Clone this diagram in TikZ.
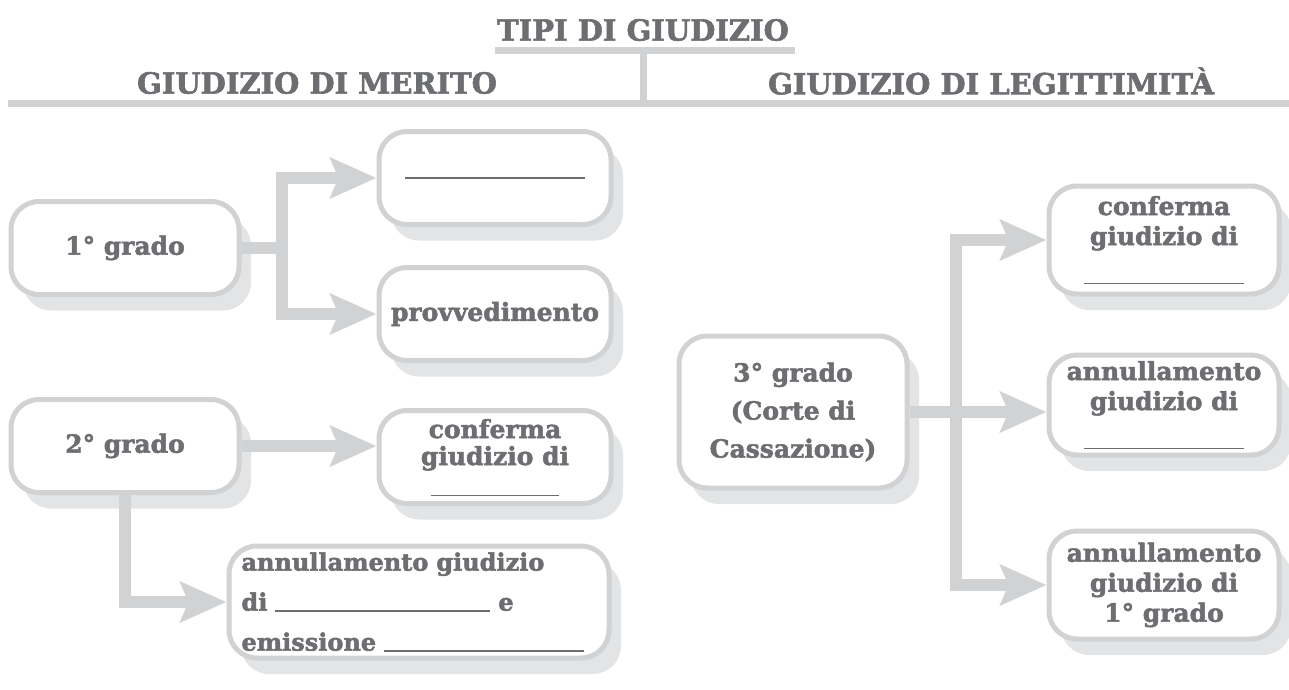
\documentclass[tikz,border=0pt]{standalone}
\usepackage{fontspec}
\setmainfont{DejaVu Serif}[BoldFeatures={FakeBold=2}]
\usetikzlibrary{arrows.meta, shadows}

\definecolor{linegray}{HTML}{D1D2D4}
\definecolor{shadowgray}{HTML}{E3E4E5}
\definecolor{textgray}{HTML}{6D6E71}

\newcommand{\blank}[1]{\textcolor{textgray}{\rule[-1pt]{#1}{1.2pt}}}

\tikzset{
  box/.style={draw=linegray, line width=5pt, fill=white, rounded corners=28pt,
    minimum width=228pt, minimum height=93pt, align=center, text=textgray,
    font=\fontsize{25}{30}\selectfont\bfseries,
    drop shadow={shadow xshift=12pt, shadow yshift=-16pt, fill=shadowgray, opacity=1}},
  link/.style={draw=linegray, line width=12pt,
    -{Stealth[length=46pt, width=40pt, inset=8pt]}},
  bar/.style={draw=linegray, line width=7pt},
  heading/.style={text=textgray, font=\fontsize{29}{32}\selectfont\bfseries}
}

\begin{document}
\begin{tikzpicture}[x=1pt, y=-1pt]
  \useasboundingbox (0,0) rectangle (1289,689);

  % Headings
  \node[heading] (tipi) at (643,30) {TIPI DI GIUDIZIO};
  \node[heading] (merito) at (317,83) {GIUDIZIO DI MERITO};
  \node[heading] (legit) at (991,81) {GIUDIZIO DI LEGITTIMITÀ};
  \draw[bar] (495,50) -- (795,50);
  \draw[bar] (643,50) -- (643,103);
  \draw[bar] (8,103) -- (1289,103);

  % Merito: boxes
  \node[box] (primo) at (125,248) {1° grado};
  \node[box, minimum width=232pt] (vuoto) at (495,178) {\blank{180pt}};
  \node[box, minimum width=232pt] (provv) at (495,314) {provvedimento};
  \node[box] (secondo) at (125,446) {2° grado};
  \node[box, minimum width=232pt, text depth=0pt] (confA) at (495,457)
    {conferma\\[-3pt]giudizio di\\[0pt]\blank{128pt}};
  \node[box, minimum width=380pt, minimum height=112pt, align=left, text width=355pt,
    font=\fontsize{24}{40}\selectfont\bfseries] (annA) at (419,602)
    {annullamento giudizio\\di \blank{215pt} e\\emissione \blank{200pt}};

  % Legittimita: boxes
  \node[box, minimum height=152pt, font=\fontsize{25}{38}\selectfont\bfseries] (terzo) at (793,412)
    {3° grado\\(Corte di\\Cassazione)};
  \node[box, minimum width=230pt, minimum height=108pt] (confB) at (1164,240)
    {conferma\\giudizio di\\[8pt]\blank{160pt}};
  \node[box, minimum width=230pt, minimum height=100pt] (annB) at (1164,405)
    {annullamento\\giudizio di\\[8pt]\blank{160pt}};
  \node[box, minimum width=230pt, minimum height=108pt] (annC) at (1164,585)
    {annullamento\\giudizio di\\1° grado};

  % Arrows
  \draw[link] (primo.east) -- ++(40,0) |- (vuoto.west);
  \draw[link] (primo.east) -- ++(40,0) |- (provv.west);
  \draw[link] (secondo.east) -- (confA.west |- secondo.east);
  \draw[link] (secondo.south) |- (annA.west);
  \draw[link] (terzo.east) -- ++(46,0) |- (confB.west);
  \draw[link] (terzo.east) -- (annB.west |- terzo.east);
  \draw[link] (terzo.east) -- ++(46,0) |- (annC.west);
\end{tikzpicture}
\end{document}
